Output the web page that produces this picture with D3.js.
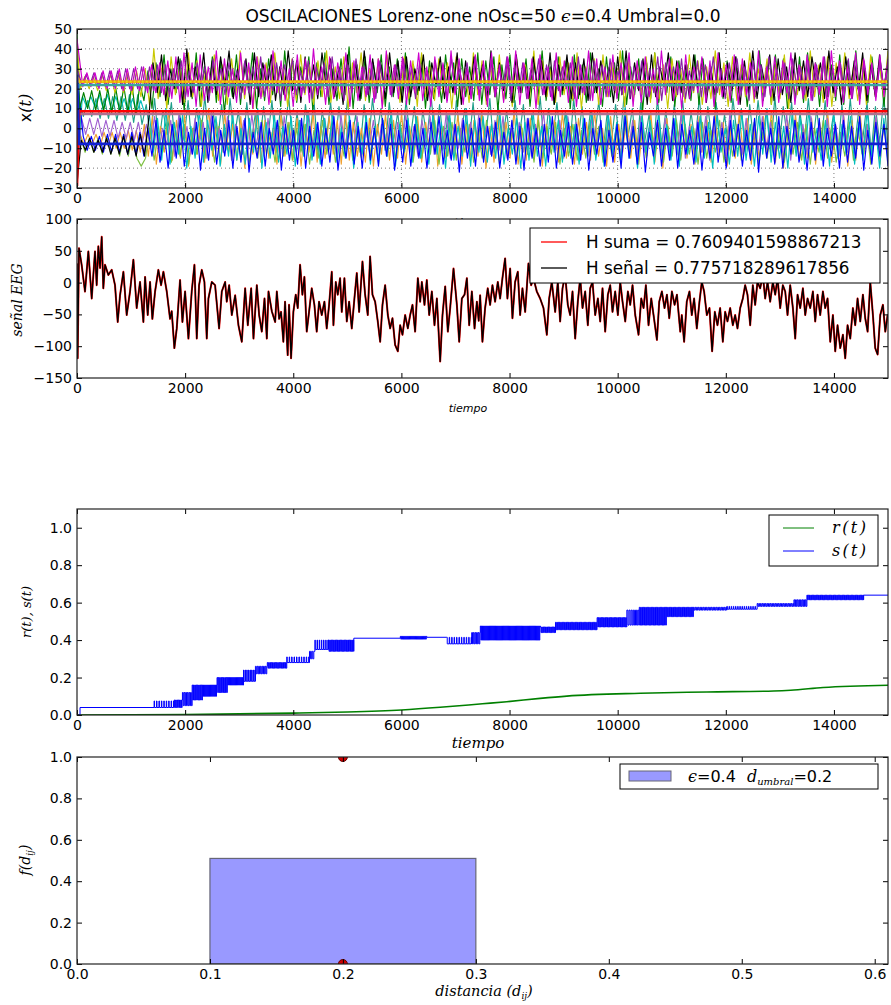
<!DOCTYPE html>
<html>
<head>
<meta charset="utf-8">
<script src="https://cdn.jsdelivr.net/npm/d3@7"></script>
<style>
  html, body { margin: 0; padding: 0; background: #fff; }
  svg text { font-family: "DejaVu Sans", sans-serif; fill: #000; }
  .math { font-family: "DejaVu Serif", serif; font-style: italic; }
</style>
</head>
<body>
<svg id="fig" width="891" height="1005"></svg>
<script>
// ---------------- data ----------------
const timeTicks = [0, 2000, 4000, 6000, 8000, 10000, 12000, 14000];
const oscTicks = [-30, -20, -10, 0, 10, 20, 30, 40, 50];
const eegTicks = [-150, -100, -50, 0, 50, 100];
const rsTicks = [0, 0.2, 0.4, 0.6, 0.8, 1.0];
const distTicks = [0, 0.1, 0.2, 0.3, 0.4, 0.5, 0.6];
const fTicks = [0, 0.2, 0.4, 0.6, 0.8, 1.0];

// Lorenz oscillators: successive extremes of x(t), spread over the run
const oscNames = ["teal", "orange", "lightgreen", "violet", "cyan", "blue", "green", "yellow", "black", "purple", "magenta"];
const oscColors = ["#20a08a", "#f0a030", "#7cc040", "#a060d0", "#00bfbf", "#0000ff", "#008000", "#c8c800", "#000000", "#8b1fa8", "#cc00cc"];
const oscOnset = [35, -10, 25, -25, -20, 27, 48, 42, -28, 30, 45];
const oscStart = [40, 55, 70, 85, 100, 115, 48, 63, 78, 93, 108];

const oscTeal = [14,6,14,6,15,5,15,5,16,4,16,4,17,3,17,2,12,-5,15,-8,
9,-3,13,-10,7,-6,14,-12,10,-4,16,-9,8,-7,12,-11,15,-5,9,-13,
13,-8,7,-10,11,-6,14,-12,10,-4,16,-9,8,-11,12,-7,15,-13,9,-5,
13,-10,11,-8,14,-6,7,-12,12,-9,15,-4,10,-11,13,-7,8,-10,14,-6,
11,-12,9,-5,16,-8,12,-10,7,-13,14,-6,10,-9,13,-11,8,-4,15,-12,
11,-7,9,-10,14,-5,12,-13,7,-8,16,-11,10,-6,13,-9,8,-12,15,-7,
11,-10,9,-5,14,-12,8,-7,12,-9,16,-4,10,-13,13,-6,7,-11,15,-8,
9,-12,12,-5,14,-10,8,-7,16,-13,11,-6,13,-9,7,-11,15,-4,10,-12,
12,-8,14,-6,9,-13,16,-10,11,-5,13,-12,8,-7,15,-9,10,-11,14,-6,
7,-13,12,-8,15,-10,9,-5,13,-12,11,-7,16,-9];
const oscOrange = [-3,-8,-3,-8,-3,-9,-2,-9,-2,-10,-2,-10,-1,-11,-1,-12,2,-14,6,-18,
1,-12,9,-16,4,-15,7,-19,0,-13,5,-17,10,-14,3,-18,8,-12,2,-16,
6,-20,1,-13,9,-17,4,-15,0,-18,7,-14,3,-16,5,-19,2,-12,8,-17,
1,-15,6,-13,4,-18,9,-16,3,-14,0,-17,5,-19,2,-13,7,-16,4,-15,
8,-18,1,-14,6,-17,3,-12,9,-19,0,-15,5,-13,7,-18,2,-16,4,-14,
8,-20,1,-17,6,-13,3,-15,9,-18,0,-16,5,-14,7,-19,2,-12,4,-17,
8,-15,1,-18,5,-13,3,-16,9,-14,0,-19,6,-17,2,-12,7,-15,4,-18,
1,-14,8,-17,3,-20,5,-13,0,-16,9,-15,2,-18,6,-12,4,-17,7,-14,
3,-19,0,-15,8,-13,5,-18,1,-16,6,-14,9,-17,2,-20,4,-13,7,-16,
0,-15,5,-18,3,-12,8,-17,1,-14,6,-19,4,-16,9,-13,2,-15,5,-18,
3,-14];
const oscLightGreen = [-5,-12,-5,-12,-5,-13,-4,-13,-4,-14,-3,-14,-3,-15,-19,-15,0,-16,-2,-12,
3,-17,-1,-14,2,-18,0,-13,4,-15,-2,-17,1,-12,3,-16,-1,-14,2,-18,
0,-15,4,-13,-2,-17,1,-14,3,-16,0,-12,2,-18,-1,-15,4,-13,1,-17,
-2,-14,3,-16,0,-15,2,-13,-1,-18,4,-14,1,-16,3,-12,0,-17,2,-15,
-2,-13,4,-18,1,-14,3,-16,0,-12,2,-17,-1,-15,4,-13,1,-18,3,-14,
0,-16,2,-12,-2,-17,4,-15,1,-13,3,-18,0,-14,2,-16,-1,-15,4,-13,
1,-17,3,-14,-1,-16,2,-12,4,-18,0,-15,3,-13,-2,-17,1,-14,4,-16,
2,-13,0,-18,3,-15,-1,-12,4,-17,1,-14,2,-16,0,-13,3,-18,-2,-15,
4,-14,1,-17,-1,-13,3,-16,2,-18,0,-12,4,-15,1,-17,-2,-14,3,-16,
0,-13,2,-18,4,-15,1,-14];
const oscViolet = [5,-3,5,-3,5,-4,4,-4,4,-5,3,-5,3,-6,3,-7,2,-9,6,-12,
0,-8,4,-14,7,-10,1,-13,5,-9,3,-15,8,-11,0,-12,6,-16,2,-10,
4,-13,7,-9,1,-14,5,-11,3,-15,6,-10,0,-12,4,-14,8,-9,2,-13,
5,-11,1,-16,7,-10,3,-12,6,-14,0,-9,4,-13,2,-11,5,-15,3,-10,
7,-12,1,-14,4,-9,6,-13,0,-11,8,-15,2,-10,5,-12,3,-14,7,-9,
1,-13,4,-11,6,-15,0,-10,3,-12,5,-14,2,-9,8,-13,1,-11,4,-15,
6,-10,3,-12,0,-14,7,-9,2,-16,5,-11,1,-13,8,-10,4,-15,6,-12,
0,-9,3,-14,5,-11,2,-13,7,-15,1,-10,4,-12,6,-16,0,-11,3,-14,
8,-9,2,-13,5,-15,1,-11,6,-10,3,-14,0,-12,7,-16,4,-9,2,-13,
6,-11,1,-15,5,-10,3,-13,7,-12,0,-14,4,-9,2,-16,6,-11,3,-12];
const oscCyan = [16,11,16,11,17,10,17,9,16,9,15,8,15,8,14,7,8,-12,5,-16,
10,-18,3,-13,7,-20,1,-15,9,-17,4,-11,6,-19,2,-14,8,-16,0,-18,
5,-12,10,-20,3,-15,7,-17,1,-13,6,-19,4,-14,9,-16,2,-18,5,-11,
8,-17,0,-15,6,-20,3,-13,7,-18,1,-16,4,-14,9,-19,2,-12,5,-17,
6,-15,0,-18,8,-13,3,-20,7,-16,1,-14,10,-19,4,-12,6,-17,2,-15,
9,-18,0,-13,5,-20,3,-16,8,-14,1,-19,6,-12,4,-17,7,-15,2,-18,
5,-14,9,-16,1,-19,7,-13,3,-17,10,-15,0,-20,6,-12,4,-18,8,-14,
2,-16,5,-19,9,-13,1,-17,6,-15,3,-20,7,-12,0,-18,4,-14,8,-16,
2,-19,6,-13,10,-17,3,-15,1,-20,7,-14,5,-18,9,-12,0,-16,4,-19,
8,-15,2,-13,6,-18,3,-16,9,-14,1,-20,5,-17];
const oscBlue = [-4,-11,-4,-11,-4,-12,-3,-12,-3,-12,-3,-13,-2,-13,-2,-14,0,-14,4,-17,
-1,-20,2,-15,5,-19,-2,-13,3,-21,0,-16,6,-18,-1,-14,4,-20,1,-17,
5,-22,-2,-15,3,-19,0,-13,4,-21,2,-16,-1,-18,5,-20,1,-14,3,-19,
0,-17,6,-21,-2,-15,4,-18,1,-20,3,-16,0,-19,5,-14,2,-21,-1,-17,
4,-19,2,-15,0,-20,3,-13,6,-18,-1,-16,2,-22,4,-15,0,-19,5,-17,
1,-14,3,-20,-2,-16,4,-18,1,-21,5,-15,0,-19,2,-17,6,-20,-1,-14,
3,-18,2,-16,5,-21,0,-13,4,-19,-1,-17,2,-20,6,-15,1,-18,3,-22,
-2,-14,4,-19,0,-16,5,-20,2,-13,-1,-18,3,-21,1,-15,6,-17,0,-20,
4,-14,2,-19,-1,-16,5,-22,3,-15,0,-18,6,-20,1,-13,4,-17,-2,-21,
3,-16,5,-19,0,-14,2,-20,4,-17,1,-15,6,-21,-1,-18,3,-14,2,-19];
const oscGreen = [10,18,10,19,9,19,9,20,8,20,8,21,8,22,7,22,14,29,10,33,
16,37,12,30,18,35,9,32,15,38,11,31,17,36,13,34,8,29,16,37,
12,33,19,38,10,30,14,35,17,32,11,39,15,34,13,31,18,36,9,33,
16,38,12,30,14,35,17,41,10,32,15,36,13,33,18,37,11,31,16,35,
14,38,12,32,17,36,10,34,15,30,13,37,18,33,11,35,16,31,14,38,
12,34,17,36,9,32,15,37,13,30,18,35,11,33,16,39,14,31,12,36,
17,34,10,37,15,32,13,38,18,30,11,36,16,33,14,39,12,31,17,35,
9,33,15,38,13,30,18,36,11,34,16,32,14,37,12,35,17,31,10,38,
15,34,13,36,18,32,11,30,16,39,14,33,12,37,17,35,10,31,15,36,
13,38,18,33,11,35,16,32,14,37,12,34,17,39,15,31,13,36,18,33,
11,37];
const oscYellow = [20,26,20,26,19,27,19,27,18,28,18,28,17,29,16,30,12,40,15,33,
10,36,17,31,13,38,16,34,11,30,18,37,14,32,12,35,17,39,15,31,
10,36,16,33,13,38,18,30,11,35,14,37,17,32,12,34,16,39,13,31,
15,36,10,33,18,38,14,30,16,35,12,37,17,32,13,36,15,34,11,38,
16,31,14,35,18,33,10,36,15,30,13,38,17,34,12,31,16,37,14,33,
11,35,18,32,15,39,12,34,16,30,13,36,17,33,14,38,10,31,15,35,
12,37,16,33,18,39,11,34,14,31,17,36,13,38,15,32,10,35,16,30,
13,37,18,34,12,31,15,39,17,33,11,36,14,32,16,38,13,30,18,35,
12,33,15,37,10,34,17,31,14,39,16,32,13,36,11,33,18,38,15,31,
14,35,12,37,17,33,16,39];
const oscBlack = [-6,-11,-5,-12,-6,-12,-5,-13,-5,-13,-4,-13,-4,-14,-3,-14,5,33,18,37,
14,30,20,36,12,40,16,31,19,38,13,34,17,36,21,39,15,30,18,35,
12,38,16,33,20,37,14,31,17,39,19,34,13,36,18,32,15,38,21,35,
16,31,12,37,19,33,14,39,17,35,20,32,15,38,18,34,13,36,16,30,
19,37,14,33,21,36,15,31,18,38,12,34,17,36,20,32,14,39,16,33,
19,35,13,37,18,31,15,36,21,34,16,38,12,32,19,37,15,33,17,35,
14,38,18,34,20,31,13,36,17,39,15,33,19,35,12,37,16,31,21,38,
14,34,18,32,15,37,20,35,13,31,17,38,16,33,19,36,12,34,18,39,
15,32,20,37,14,35,17,31,13,38,19,34,16,36,21,33,15,39,18,31,
12,36,17,34,19,38,14,32,16,37,20,33];
const oscPurple = [22,27,22,28,21,28,21,29,21,29,20,30,20,30,20,31,19,31,19,32,
18,32,16,30,20,34,15,29,18,33,22,31,14,35,19,30,17,33,21,29,
15,34,18,31,20,36,16,30,19,33,14,32,21,35,17,29,18,34,15,31,
20,33,16,36,19,30,14,32,18,35,21,31,17,33,15,34,19,30,16,32,
20,35,18,31,15,33,20,29,16,34,19,32,14,36,18,30,21,33,15,35,
17,31,19,34,16,30,20,36,14,32,18,33,15,29,21,35,17,32,16,34,
19,31,20,33,15,36,18,30,14,34,21,32,16,35,19,29,17,33,15,31,
20,34,16,30,18,36,14,33,21,31,17,35,15,29,19,34,16,32,20,36,
18,30,15,33,21,35,17,31,14,34,19,32,16,36,20,30,18,33,15,35,
21,31,17,34,14,32,19,36,16,30,20,33,18,35,15,31,17,34,19,32,
16,33,20,35];
const oscMagenta = [21,28,21,28,20,29,20,29,20,30,19,30,19,31,19,31,18,32,18,33,
17,34,15,36,13,38,16,33,11,37,14,31,18,39,12,35,16,30,13,38,
17,33,10,36,15,32,12,39,18,34,14,30,11,37,16,35,13,40,17,31,
12,36,15,33,18,38,11,34,14,31,16,37,13,35,10,39,17,32,15,36,
12,34,18,38,14,31,11,36,16,33,13,39,17,35,12,30,15,37,14,34,
11,38,16,32,13,36,18,39,12,33,15,35,10,37,17,31,14,38,16,34,
13,36,11,32,17,39,14,35,12,31,16,37,15,33,18,38,11,34,13,36,
16,30,12,39,17,35,14,33,10,37,15,31,18,36,13,34,11,38,16,32,
14,37,12,35,17,33,15,39,11,31,16,36,13,34,18,38,12,32,15,37,
14,33,17,36,11,39,16,34,13,31,15,38,12,35,17,33,14,37,16,34];
const oscSeries = [oscTeal, oscOrange, oscLightGreen, oscViolet, oscCyan, oscBlue, oscGreen, oscYellow, oscBlack, oscPurple, oscMagenta];

// oscillators that settle on a fixed point
const fixedLevels = [21.8, 23.5, 23.5, 7.2, 8.6, -7.8];
const fixedOnset = [18, 26, 26, 4, -29, 27];
const fixedColors = ["#3aa6a0", "#f39c12", "#e6e600", "#b07090", "#ff0000", "#1020d0"];
const fixedDash = [null, null, "2,2", null, null, null];

// EEG signal (time, value)
const eegSignal = [[0,30],[12,-119],[37,54],[86,28],[148,-14],[210,49],[272,-25],[333,49],[364,-4],[395,57],[426,23],[457,72],[487,-9],[518,28],[580,12],[642,20],[703,-4],[753,-62],[796,-20],[858,17],[919,-51],[981,-14],[1043,36],[1104,-40],[1166,1],[1228,-62],[1259,9],[1308,-51],[1351,1],[1394,-57],[1444,-14],[1505,20],[1555,-4],[1598,17],[1660,-14],[1721,-57],[1752,-45],[1801,-103],[1845,-72],[1906,4],[1950,-62],[1999,-14],[2061,-88],[2122,-14],[2172,28],[2215,-88],[2258,-4],[2308,20],[2357,1],[2400,-88],[2431,-25],[2493,1],[2554,-4],[2628,-72],[2678,-14],[2740,1],[2770,-30],[2814,-4],[2863,-51],[2925,-20],[2986,-67],[3048,-93],[3110,-9],[3159,-67],[3221,-9],[3264,-88],[3326,-4],[3369,-51],[3418,-77],[3468,-25],[3511,-88],[3542,-14],[3603,-45],[3665,-62],[3696,-14],[3739,-57],
[3774,-46],[3817,-93],[3848,-30],[3897,-114],[3922,-35],[3959,-119],[4002,-46],[4046,-19],[4083,-40],[4126,28],[4169,-19],[4206,9],[4249,-77],[4292,-46],[4342,-9],[4391,-35],[4434,-77],[4477,-30],[4527,-51],[4576,-30],[4619,-72],[4663,-35],[4712,17],[4743,-67],[4786,1],[4823,-19],[4866,7],[4897,-46],[4946,7],[4990,-61],[5033,-30],[5082,-72],[5131,-25],[5175,15],[5218,-46],[5280,33],[5329,-19],[5378,-51],[5421,41],[5465,-19],[5514,-30],[5563,-61],[5607,-93],[5650,-35],[5699,-4],[5749,-51],[5792,-72],[5835,-56],[5884,-98],[5934,-108],[5977,-67],[6020,-82],[6069,-51],[6119,-72],[6162,-51],[6205,-35],[6254,-77],[6304,7],[6347,-30],[6378,1],[6427,-35],[6470,4],[6514,-51],[6563,-14],[6612,-67],[6656,-25],[6717,-124],[6760,-51],[6810,-6],[6859,-77],[6902,-40],[6964,22],[7026,-35],[7069,-93],[7118,-25],[7168,-19],[7211,7],[7254,-67],[7303,-14],[7353,-72],[7396,-30],
[7430,-60],[7456,-20],[7499,-93],[7548,-40],[7597,-9],[7641,-35],[7684,-4],[7733,-30],[7783,1],[7826,-25],[7869,7],[7918,38],[7961,-25],[8011,22],[8054,-56],[8103,1],[8153,17],[8196,-51],[8239,-9],[8289,-46],[8350,30],[8400,-4],[8443,7],[8504,-14],[8566,-25],[8628,-40],[8690,-82],[8733,-25],[8782,1],[8844,-46],[8893,1],[8936,-61],[8980,-9],[9029,12],[9078,-35],[9121,-51],[9165,-14],[9214,-88],[9263,-30],[9307,7],[9350,-40],[9399,-14],[9448,-67],[9492,-9],[9535,1],[9584,-51],[9634,-25],[9677,-61],[9720,-9],[9769,-77],[9819,-19],[9862,-4],[9905,-46],[9954,-14],[10004,-51],[10047,1],[10090,-30],[10140,-61],[10189,-14],[10232,-35],[10275,-4],[10325,-51],[10386,-82],[10436,-25],[10479,-40],[10522,-4],[10571,-67],[10621,-25],[10664,-51],[10726,-90],[10769,-30],[10818,-14],[10867,-40],[10911,-19],[10954,-56],[11003,-14],[11053,-35],[11096,-19],[11158,-77],
[11186,-51],[11229,-93],[11278,-30],[11328,-14],[11371,-51],[11414,-25],[11464,-72],[11513,-30],[11556,1],[11599,-14],[11649,-51],[11698,-40],[11747,-108],[11797,-46],[11846,-67],[11895,-40],[11945,-93],[11988,-46],[12031,-61],[12081,-40],[12130,-67],[12173,-51],[12216,-72],[12266,-40],[12315,-25],[12358,-4],[12401,-19],[12451,-67],[12500,-4],[12543,-35],[12586,1],[12636,-9],[12685,12],[12728,-25],[12772,1],[12821,-30],[12870,1],[12914,-19],[12957,7],[13006,-40],[13055,-4],[13099,-14],[13142,-51],[13191,-4],[13241,-40],[13284,-88],[13327,-19],[13376,-40],[13426,-9],[13469,-51],[13512,-25],[13561,-40],[13611,-14],[13654,-61],[13697,-19],[13746,-51],[13796,-14],[13839,-40],[13882,-25],[13932,-93],[13981,-51],[14024,-108],[14067,-67],[14117,-103],[14166,-82],[14209,-119],[14252,-67],[14302,-88],[14351,-40],[14394,-67],[14437,-25],[14487,-61],[14536,-19],[14579,-56],[14623,-77],[14672,1],[14721,-51],[14764,-103],[14808,-113],[14857,-51],[14906,-35],[14950,-77],[14993,-51],[15000,-50]];
const hSuma = 0.7609401598867213;
const hSenal = 0.775718289617856;

// s(t): [start, end, low level, high level, flicker period]
const sBlocks = [[0,56,0,0,0],[56,1426,0.04,0.04,0],[1426,1800,0.04,0.075,45],[1800,1950,0.04,0.08,12],[1950,2130,0.05,0.12,15],[2130,2320,0.08,0.16,12],[2320,2590,0.10,0.16,10],[2590,2780,0.12,0.20,12],[2780,3080,0.16,0.20,10],[3080,3300,0.18,0.24,30],[3300,3520,0.22,0.26,15],[3520,3880,0.25,0.28,12],[3880,4300,0.28,0.31,45],[4300,4400,0.30,0.34,20],[4400,4650,0.35,0.40,40],[4650,5120,0.34,0.40,12],[5120,5980,0.41,0.41,0],[5980,6470,0.405,0.42,10],[6470,6840,0.415,0.415,0],[6840,7300,0.38,0.415,45],[7300,7460,0.38,0.44,15],[7460,8570,0.40,0.475,10],[8570,8850,0.44,0.47,12],[8850,9620,0.455,0.495,12],[9620,10170,0.47,0.52,12],[10170,10400,0.48,0.56,20],[10400,10900,0.48,0.575,12],[10900,11400,0.525,0.575,12],[11400,12020,0.56,0.575,15],[12020,12580,0.565,0.58,40],[12580,13260,0.58,0.595,15],[13260,13500,0.58,0.615,15],[13500,14550,0.615,0.64,12],[14550,15000,0.64,0.64,0]];
// r(t): (time, value)
const rSignal = [[0,0],[1000,0.001],[2000,0.003],[3000,0.006],[4000,0.01],[5000,0.016],[6000,0.027],[6716,0.041],[7500,0.06],[7950,0.071],[8567,0.089],[9060,0.101],[10418,0.116],[11650,0.123],[12886,0.128],[13200,0.132],[13800,0.147],[15000,0.159]];

// histogram of distances
const histBins = [[0.1, 0.3]];
const histHeights = [0.51];
const markerX = [0.2, 0.2];
const markerY = [0, 1.0];

// ---------------- layout ----------------
const L = 77, R = 888;
const svg = d3.select("#fig");

function styleAxis(g) {
  g.select(".domain").remove();
  g.attr("font-size", 14).attr("font-family", "DejaVu Sans");
  g.selectAll(".tick line").attr("stroke", "#000").attr("stroke-width", 1);
  g.selectAll(".tick text").attr("fill", "#000");
}

function makePanel(id, top, bottom, x, yDomain, xTicks, yTicks, xFmt, yFmt) {
  const y = d3.scaleLinear().domain(yDomain).range([bottom, top]);
  const g = svg.append("g").attr("id", id);
  g.append("rect").attr("x", L).attr("y", top).attr("width", R - L).attr("height", bottom - top).attr("fill", "#fff");
  svg.append("clipPath").attr("id", id + "-clip")
    .append("rect").attr("x", L).attr("y", top).attr("width", R - L).attr("height", bottom - top);
  const plot = g.append("g").attr("clip-path", `url(#${id}-clip)`);
  const axes = g.append("g");
  const none = () => "";
  axes.append("g").attr("transform", `translate(0,${bottom})`)
    .call(d3.axisBottom(x).tickValues(xTicks).tickFormat(xFmt).tickSize(-5).tickPadding(5)).call(styleAxis);
  axes.append("g").attr("transform", `translate(0,${top})`)
    .call(d3.axisTop(x).tickValues(xTicks).tickFormat(none).tickSize(-5)).call(styleAxis);
  axes.append("g").attr("transform", `translate(${L},0)`)
    .call(d3.axisLeft(y).tickValues(yTicks).tickFormat(yFmt).tickSize(-5).tickPadding(5)).call(styleAxis);
  axes.append("g").attr("transform", `translate(${R},0)`)
    .call(d3.axisRight(y).tickValues(yTicks).tickFormat(none).tickSize(-5)).call(styleAxis);
  axes.append("rect").attr("x", L).attr("y", top).attr("width", R - L).attr("height", bottom - top)
    .attr("fill", "none").attr("stroke", "#222").attr("stroke-width", 1.2);
  return { g, plot, y };
}

const intFmt = d3.format("d");
const oneFmt = d3.format(".1f");

// ---------- title ----------
const title = svg.append("text").attr("x", 483).attr("y", 22).attr("text-anchor", "middle").attr("font-size", 17);
title.append("tspan").text("OSCILACIONES Lorenz-one nOsc=50 ");
title.append("tspan").attr("class", "math").text("ϵ");
title.append("tspan").text("=0.4 Umbral=0.0");

// ---------- panel 1: oscillators ----------
const xT1 = d3.scaleLinear().domain([0, 15000]).range([L, R]);
const p1 = makePanel("osc", 29, 188, xT1, [-30, 50], timeTicks, oscTicks, intFmt, intFmt);
const gridG = p1.plot.append("g");
gridG.selectAll("line.gx").data(timeTicks.slice(1)).join("line")
  .attr("x1", d => xT1(d)).attr("x2", d => xT1(d)).attr("y1", 29).attr("y2", 188)
  .attr("stroke", "#555").attr("stroke-width", 0.8).attr("stroke-dasharray", "1,3");
gridG.selectAll("line.gy").data(oscTicks.slice(1, -1)).join("line")
  .attr("x1", L).attr("x2", R).attr("y1", d => p1.y(d)).attr("y2", d => p1.y(d))
  .attr("stroke", "#555").attr("stroke-width", 0.8).attr("stroke-dasharray", "1,3");

const oscLine = d3.line().x(d => xT1(d[0])).y(d => p1.y(d[1]));
oscSeries.forEach((vals, k) => {
  const n = vals.length, t0 = oscStart[k];
  const pts = [[0, oscOnset[k]]].concat(vals.map((v, i) => [t0 + i * ((15000 - t0) / (n - 1)), v]));
  p1.plot.append("path").datum(pts).attr("d", oscLine)
    .attr("fill", "none").attr("stroke", oscColors[k]).attr("stroke-width", 1.15)
    .attr("stroke-linejoin", "round");
});
fixedLevels.forEach((lv, k) => {
  const pts = [[0, fixedOnset[k]], [40, lv], [15000, lv]];
  const p = p1.plot.append("path").datum(pts).attr("d", oscLine)
    .attr("fill", "none").attr("stroke", fixedColors[k]).attr("stroke-width", fixedDash[k] ? 1.6 : 2.6);
  if (fixedDash[k]) p.attr("stroke-dasharray", fixedDash[k]);
});
svg.append("text").attr("transform", "translate(31,108) rotate(-90)").attr("text-anchor", "middle")
  .attr("font-size", 16).call(t => {
    t.append("tspan").text("x");
    t.append("tspan").attr("class", "math").text("(t)");
  });
svg.append("text").attr("class", "math").attr("x", 478).attr("y", 229).attr("text-anchor", "middle")
  .attr("font-size", 14).text("tiempo");

// ---------- panel 2: EEG ----------
const p2 = makePanel("eeg", 219, 378, xT1, [-150, 100], timeTicks, eegTicks, intFmt, intFmt);
const eegLine = d3.line().x(d => xT1(d[0])).y(d => p2.y(d[1]));
p2.plot.append("path").datum(eegSignal).attr("d", eegLine)
  .attr("fill", "none").attr("stroke", "#ff0000").attr("stroke-width", 2.0).attr("stroke-linejoin", "round");
p2.plot.append("path").datum(eegSignal).attr("d", eegLine)
  .attr("fill", "none").attr("stroke", "#000").attr("stroke-width", 1.3).attr("stroke-linejoin", "round");
const lg2 = p2.g.append("g");
lg2.append("rect").attr("x", 530).attr("y", 228).attr("width", 350).attr("height", 55)
  .attr("fill", "#fff").attr("stroke", "#000").attr("stroke-width", 1);
[["#ff0000", "H suma = " + String(hSuma), 242], ["#000000", "H señal = " + String(hSenal), 268]].forEach(([c, label, yy]) => {
  lg2.append("line").attr("x1", 541).attr("x2", 567).attr("y1", yy).attr("y2", yy).attr("stroke", c).attr("stroke-width", 1.3);
  lg2.append("text").attr("x", 586).attr("y", yy + 6).attr("font-size", 16.8).text(label);
});
svg.append("text").attr("class", "math").attr("transform", "translate(22,300) rotate(-90)")
  .attr("text-anchor", "middle").attr("font-size", 14).text("señal EEG");
svg.append("text").attr("x", 468).attr("y", 412).attr("text-anchor", "middle")
  .attr("font-size", 11).attr("font-style", "italic").text("tiempo");

// ---------- panel 3: r(t), s(t) ----------
const p3 = makePanel("rs", 509, 715, xT1, [0, 1.1], timeTicks, rsTicks, intFmt, oneFmt);
const rLine = d3.line().x(d => xT1(d[0])).y(d => p3.y(d[1]));
p3.plot.append("path").datum(rSignal).attr("d", rLine.curve(d3.curveMonotoneX))
  .attr("fill", "none").attr("stroke", "#008000").attr("stroke-width", 1.6);
// s(t) flickers between two levels; slow flicker shows as brief pulses
const sPts = [];
sBlocks.forEach(([a, b, lo, hi, gap]) => {
  if (!gap) { sPts.push([a, lo]); return; }
  if (gap >= 30) {
    for (let t = a; t < b; t += gap) { sPts.push([t, hi]); sPts.push([t + 8, lo]); }
    return;
  }
  let k = 0;
  for (let t = a; t < b; t += gap, k++) sPts.push([t, k % 2 === 0 ? hi : lo]);
});
sPts.push([15000, sBlocks[sBlocks.length - 1][2]]);
p3.plot.append("path").datum(sPts)
  .attr("d", d3.line().x(d => xT1(d[0])).y(d => p3.y(d[1])).curve(d3.curveStepAfter))
  .attr("fill", "none").attr("stroke", "#0000ff").attr("stroke-width", 1);
const lg3 = p3.g.append("g");
lg3.append("rect").attr("x", 769).attr("y", 515).attr("width", 109).attr("height", 51)
  .attr("fill", "#fff").attr("stroke", "#000").attr("stroke-width", 1);
[["#008000", "r(t)", 528], ["#0000ff", "s(t)", 551]].forEach(([c, label, yy]) => {
  lg3.append("line").attr("x1", 783).attr("x2", 814).attr("y1", yy).attr("y2", yy).attr("stroke", c).attr("stroke-width", 1);
  lg3.append("text").attr("class", "math").attr("x", 832).attr("y", yy + 5).attr("font-size", 16)
    .attr("textLength", 34).attr("lengthAdjust", "spacing").text(label);
});
svg.append("text").attr("class", "math").attr("transform", "translate(31,612) rotate(-90)")
  .attr("text-anchor", "middle").attr("font-size", 13).text("r(t), s(t)");
svg.append("text").attr("class", "math").attr("x", 478).attr("y", 748).attr("text-anchor", "middle")
  .attr("font-size", 15).text("tiempo");

// ---------- panel 4: histogram ----------
const xD = d3.scaleLinear().domain([0, 0.61]).range([L, R]);
const p4 = makePanel("hist", 757, 964, xD, [0, 1], distTicks, fTicks, oneFmt, oneFmt);
p4.plot.selectAll("rect.bar").data(histBins).join("rect")
  .attr("x", d => xD(d[0])).attr("width", d => xD(d[1]) - xD(d[0]))
  .attr("y", (d, i) => p4.y(histHeights[i])).attr("height", (d, i) => p4.y(0) - p4.y(histHeights[i]))
  .attr("fill", "#9999ff").attr("stroke", "#666677").attr("stroke-width", 1.2);
p4.plot.selectAll("circle").data(markerX).join("circle")
  .attr("cx", d => xD(d)).attr("cy", (d, i) => p4.y(markerY[i])).attr("r", 4.5)
  .attr("fill", "#cc0000").attr("stroke", "#660000").attr("stroke-width", 1);
const lg4 = p4.g.append("g");
lg4.append("rect").attr("x", 620).attr("y", 764).attr("width", 258).attr("height", 25)
  .attr("fill", "#fff").attr("stroke", "#000").attr("stroke-width", 1);
lg4.append("rect").attr("x", 629).attr("y", 771).attr("width", 42).attr("height", 10)
  .attr("fill", "#9999ff").attr("stroke", "#666677").attr("stroke-width", 1);
const lt4 = lg4.append("text").attr("x", 688).attr("y", 782).attr("font-size", 16);
lt4.append("tspan").attr("class", "math").text("ϵ");
lt4.append("tspan").text("=0.4  ");
lt4.append("tspan").attr("class", "math").attr("dx", 6).text("d");
lt4.append("tspan").attr("class", "math").attr("font-size", 10).attr("dy", 3).text("umbral");
lt4.append("tspan").attr("dy", -3).text("=0.2");
svg.append("text").attr("transform", "translate(30,860) rotate(-90)").attr("text-anchor", "middle")
  .attr("font-size", 14).call(t => {
    t.append("tspan").attr("class", "math").text("f(d");
    t.append("tspan").attr("class", "math").attr("font-size", 9).attr("dy", 3).text("ij");
    t.append("tspan").attr("class", "math").attr("dy", -3).text(")");
  });
svg.append("text").attr("x", 484).attr("y", 996).attr("text-anchor", "middle").attr("font-size", 14.5)
  .call(t => {
    t.append("tspan").attr("class", "math").text("distancia (d");
    t.append("tspan").attr("class", "math").attr("font-size", 9).attr("dy", 3).text("ij");
    t.append("tspan").attr("class", "math").attr("dy", -3).text(")");
  });
</script>
</body>
</html>
